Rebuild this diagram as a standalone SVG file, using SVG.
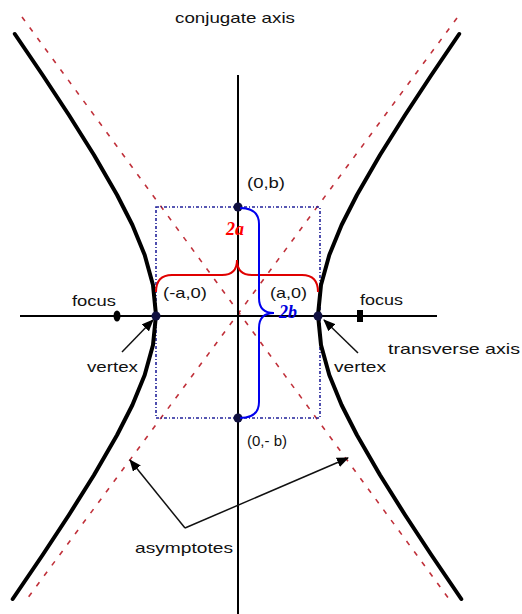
<svg xmlns="http://www.w3.org/2000/svg" width="522" height="614" viewBox="0 0 522 614">
<style>
.lbl{font-family:"Liberation Sans",Arial,sans-serif;font-size:15px;fill:#111}
.hyp{fill:none;stroke:#000;stroke-width:4;stroke-linejoin:round;stroke-linecap:round}
.asym{fill:none;stroke:#c0303a;stroke-width:1.6;stroke-dasharray:5 8}
.axis{stroke:#000;stroke-width:2}
.box{fill:none;stroke:#22229a;stroke-width:1.6;stroke-dasharray:3 2 1 2}
.ptr{stroke:#111;stroke-width:1.5;fill:none;marker-end:url(#ah)}
.dot{fill:#111140}
</style>
<defs>
<marker id="ah" viewBox="0 0 12 10" refX="11" refY="5" markerWidth="12" markerHeight="10" markerUnits="userSpaceOnUse" orient="auto">
<path d="M0,0 L12,5 L0,10 Z" fill="#000"/>
</marker>
</defs>
<g id="asymptotes-lines">
<line class="asym" x1="22" y1="17" x2="449" y2="599"/>
<line class="asym" x1="457" y1="18" x2="27" y2="599"/>
</g>
<g id="box">
<rect class="box" x="156" y="207" width="164" height="211"/>
</g>
<g id="axes">
<line class="axis" x1="238" y1="75" x2="238" y2="614"/>
<line class="axis" x1="20" y1="316" x2="437" y2="316"/>
</g>
<g id="hyperbola">
<path class="hyp" d="M14.8,34 L42.6,75 L68.9,115 L94,155 L117.1,195 L132.4,225 L144.7,255 L153,285 L156,315 L153,345 L144.7,375 L132.4,405 L117.1,435 L94,475 L68.9,515 L42.6,555 L12.7,599"/>
<path class="hyp" d="M459.2,34 L431.4,75 L405.1,115 L380,155 L356.9,195 L341.6,225 L329.3,255 L321,285 L318,315 L321,345 L329.3,375 L341.6,405 L356.9,435 L380,475 L405.1,515 L431.4,555 L461.3,599"/>
</g>
<g id="points">
<circle class="dot" cx="238" cy="207" r="4.5"/>
<circle class="dot" cx="238" cy="418" r="4.5"/>
<circle class="dot" cx="156" cy="316" r="4.5"/>
<circle class="dot" cx="318" cy="316" r="4.5"/>
<ellipse cx="117" cy="316" rx="3.5" ry="5.5" fill="#000"/>
<rect x="357" y="310" width="6" height="12" fill="#000"/>
</g>
<g id="brace-2a">
<path d="M156,292 Q156,275 172,275 L222,275 Q237,275 237,260 Q237,275 252,275 L302,275 Q318,275 318,292" fill="none" stroke="#e00000" stroke-width="2"/>
<text x="235" y="235" text-anchor="middle" font-family="Liberation Serif,serif" font-size="18" font-weight="bold" font-style="italic" fill="#ff0000">2<tspan font-style="italic">a</tspan></text>
</g>
<g id="brace-2b">
<path d="M240,208 Q259,208 259,224 L259,298 Q259,313 274,313 Q259,313 259,328 L259,402 Q259,418 240,418" fill="none" stroke="#0000ee" stroke-width="2"/>
<text x="288" y="318" text-anchor="middle" font-family="Liberation Serif,serif" font-size="18" font-weight="bold" font-style="italic" fill="#0000dd">2b</text>
</g>
<g id="connectors">
<line class="ptr" x1="122" y1="352" x2="153" y2="320"/>
<line class="ptr" x1="358" y1="353" x2="324" y2="320"/>
<line class="ptr" x1="185" y1="528" x2="130" y2="460"/>
<line class="ptr" x1="185" y1="528" x2="348" y2="458"/>
</g>
<g id="labels">
<text class="lbl" x="175" y="23" textLength="120" lengthAdjust="spacingAndGlyphs">conjugate axis</text>
<text class="lbl" x="247" y="188" textLength="38" lengthAdjust="spacingAndGlyphs">(0,b)</text>
<text class="lbl" x="163" y="298" textLength="44" lengthAdjust="spacingAndGlyphs">(-a,0)</text>
<text class="lbl" x="270" y="298" textLength="37" lengthAdjust="spacingAndGlyphs">(a,0)</text>
<text class="lbl" x="247" y="446" textLength="40" lengthAdjust="spacingAndGlyphs">(0,- b)</text>
<text class="lbl" x="72" y="306" textLength="44" lengthAdjust="spacingAndGlyphs">focus</text>
<text class="lbl" x="360" y="305" textLength="43" lengthAdjust="spacingAndGlyphs">focus</text>
<text class="lbl" x="87" y="372" textLength="51" lengthAdjust="spacingAndGlyphs">vertex</text>
<text class="lbl" x="334" y="372" textLength="52" lengthAdjust="spacingAndGlyphs">vertex</text>
<text class="lbl" x="388" y="354" textLength="132" lengthAdjust="spacingAndGlyphs">transverse axis</text>
<text class="lbl" x="135" y="553" textLength="98" lengthAdjust="spacingAndGlyphs">asymptotes</text>
</g>
</svg>
